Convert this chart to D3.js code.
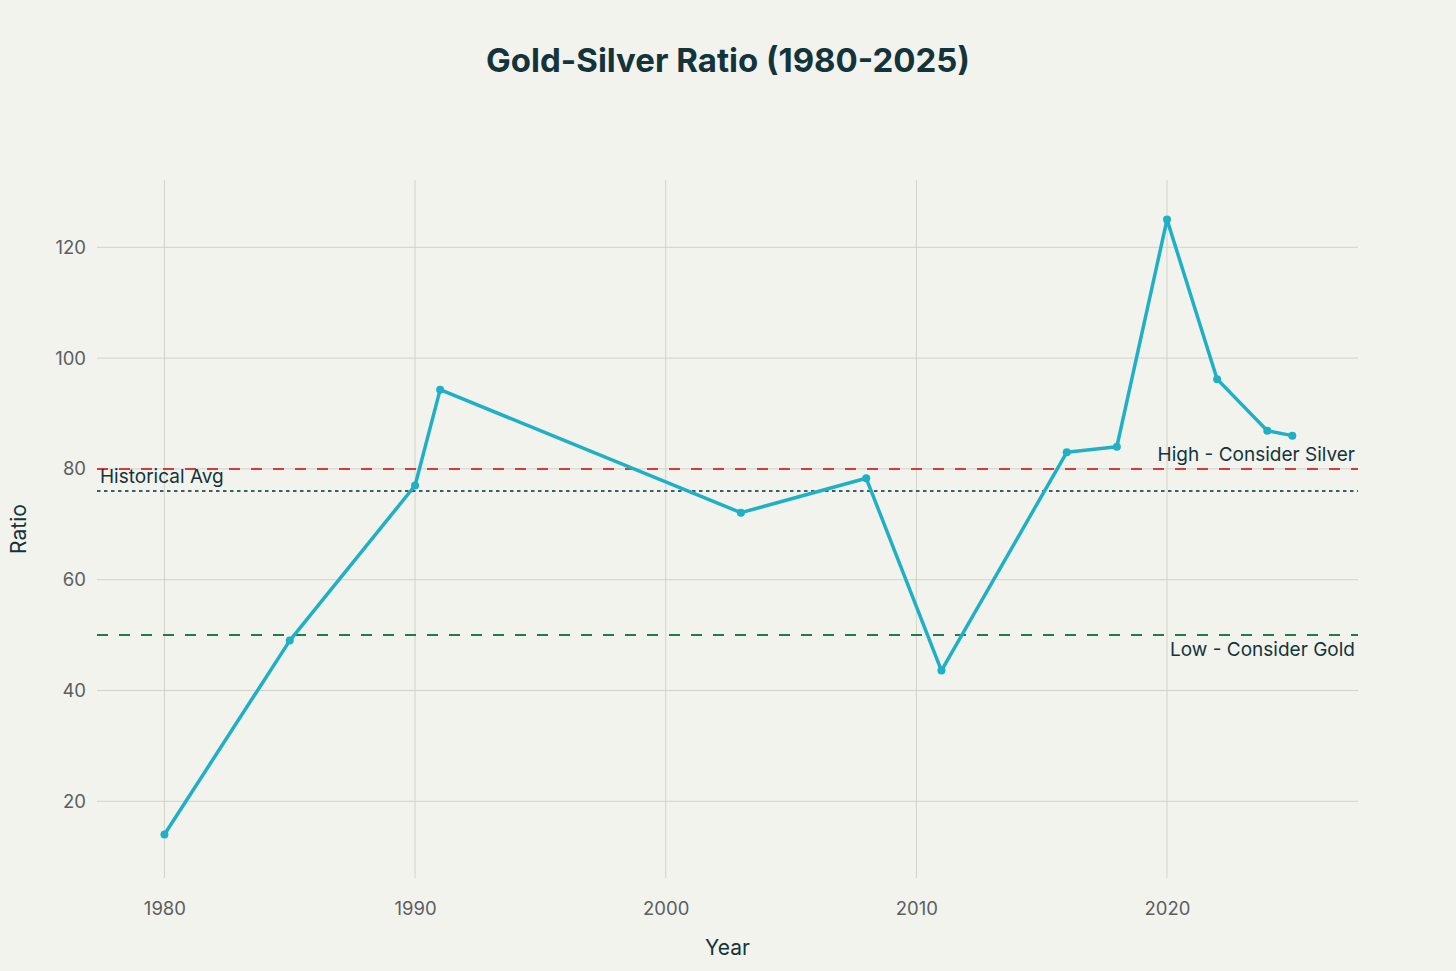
<!DOCTYPE html>
<html>
<head>
<meta charset="utf-8">
<script src="https://cdn.jsdelivr.net/npm/d3@7"></script>
<style>
    html, body { margin: 0; padding: 0; background: #f3f3ee; }
    svg { display: block; font-family: Inter, "Liberation Sans", sans-serif; }
</style>
</head>
<body>
<svg id="chart" width="1456" height="971"></svg>
<script>
(function(){
    "use strict";

    // data
    var years = [1980, 1985, 1990, 1991, 2003, 2008, 2011, 2016, 2018, 2020, 2022, 2024, 2025];
    var ratios = [14, 49, 77, 94.3, 72.1, 78.3, 43.6, 83, 84, 125, 96.2, 86.9, 86];
    var xTicks = [1980, 1990, 2000, 2010, 2020];
    var yTicks = [20, 40, 60, 80, 100, 120];
    var refValues = [80, 76, 50];
    var refLabels = ["High - Consider Silver", "Historical Avg", "Low - Consider Gold"];

    var width = 1456, height = 971;
    var margin = {top: 180, right: 98, bottom: 93, left: 97};

    var svg = d3.select("#chart");

    var x = d3.scaleLinear()
        .domain([1977.31, 2027.62])
        .range([margin.left, width - margin.right]);

    var y = d3.scaleLinear()
        .domain([6.15, 132.15])
        .range([height - margin.bottom, margin.top]);

    var gridColor = "#d2d2cd";

    // vertical grid
    svg.append("g")
        .selectAll("line")
        .data(xTicks)
        .enter().append("line")
        .attr("x1", function(d){ return x(d); })
        .attr("x2", function(d){ return x(d); })
        .attr("y1", margin.top)
        .attr("y2", height - margin.bottom)
        .attr("stroke", gridColor)
        .attr("stroke-width", 1);

    // horizontal grid
    svg.append("g")
        .selectAll("line")
        .data(yTicks)
        .enter().append("line")
        .attr("x1", margin.left)
        .attr("x2", width - margin.right)
        .attr("y1", function(d){ return y(d); })
        .attr("y2", function(d){ return y(d); })
        .attr("stroke", gridColor)
        .attr("stroke-width", 1);

    // axes (labels only, no domain)
    var xAxis = svg.append("g")
        .attr("transform", "translate(0," + (height - margin.bottom) + ")")
        .call(d3.axisBottom(x).tickValues(xTicks).tickFormat(d3.format("d")).tickSize(0).tickPadding(24));

    var yAxis = svg.append("g")
        .attr("transform", "translate(" + margin.left + ",0)")
        .call(d3.axisLeft(y).tickValues(yTicks).tickSize(0).tickPadding(11));

    [xAxis, yAxis].forEach(function(a){
        a.select(".domain").remove();
        a.selectAll("text")
            .attr("fill", "#5a5f62")
            .style("font-size", "18.5px")
            .style("font-family", "Inter, 'Liberation Sans', sans-serif");
    });

    // reference lines
    var refStyles = [
        {color: "#d63a3a", dash: "11,11", w: 2},
        {color: "#38606c", dash: "3.5,3.5", w: 2},
        {color: "#1f7d4c", dash: "11,11", w: 2}
    ];

    svg.append("g")
        .selectAll("line")
        .data(refValues)
        .enter().append("line")
        .attr("x1", margin.left)
        .attr("x2", width - margin.right)
        .attr("y1", function(d){ return y(d); })
        .attr("y2", function(d){ return y(d); })
        .attr("stroke", function(d, i){ return refStyles[i].color; })
        .attr("stroke-width", function(d, i){ return refStyles[i].w; })
        .attr("stroke-dasharray", function(d, i){ return refStyles[i].dash; });

    // reference labels
    var labelColor = "#13343b";
    svg.append("text")
        .attr("x", width - margin.right - 3)
        .attr("y", y(refValues[0]) - 8)
        .attr("text-anchor", "end")
        .attr("fill", labelColor)
        .style("font-size", "19px")
        .text(refLabels[0]);

    svg.append("text")
        .attr("x", margin.left + 3)
        .attr("y", y(refValues[1]) - 8)
        .attr("text-anchor", "start")
        .attr("fill", labelColor)
        .style("font-size", "19px")
        .text(refLabels[1]);

    svg.append("text")
        .attr("x", width - margin.right - 3)
        .attr("y", y(refValues[2]) + 21)
        .attr("text-anchor", "end")
        .attr("fill", labelColor)
        .style("font-size", "19px")
        .text(refLabels[2]);

    // ratio line
    var points = years.map(function(d, i){ return {year: d, ratio: ratios[i]}; });
    var lineColor = "#1fb0c5";

    var line = d3.line()
        .x(function(d){ return x(d.year); })
        .y(function(d){ return y(d.ratio); });

    svg.append("path")
        .datum(points)
        .attr("d", line)
        .attr("fill", "none")
        .attr("stroke", lineColor)
        .attr("stroke-width", 3.5)
        .attr("stroke-linejoin", "round");

    svg.append("g")
        .selectAll("circle")
        .data(points)
        .enter().append("circle")
        .attr("cx", function(d){ return x(d.year); })
        .attr("cy", function(d){ return y(d.ratio); })
        .attr("r", 4)
        .attr("fill", lineColor);

    // title and axis titles
    svg.append("text")
        .attr("x", width / 2)
        .attr("y", 72)
        .attr("text-anchor", "middle")
        .attr("fill", "#13343b")
        .style("font-size", "33px")
        .style("font-weight", "bold")
        .text("Gold-Silver Ratio (1980-2025)");

    svg.append("text")
        .attr("x", (margin.left + width - margin.right) / 2)
        .attr("y", 955)
        .attr("text-anchor", "middle")
        .attr("fill", "#13343b")
        .style("font-size", "21px")
        .text("Year");

    svg.append("text")
        .attr("transform", "translate(26," + ((margin.top + height - margin.bottom) / 2) + ") rotate(-90)")
        .attr("text-anchor", "middle")
        .attr("fill", "#13343b")
        .style("font-size", "21px")
        .text("Ratio");
}());
</script>
</body>
</html>
